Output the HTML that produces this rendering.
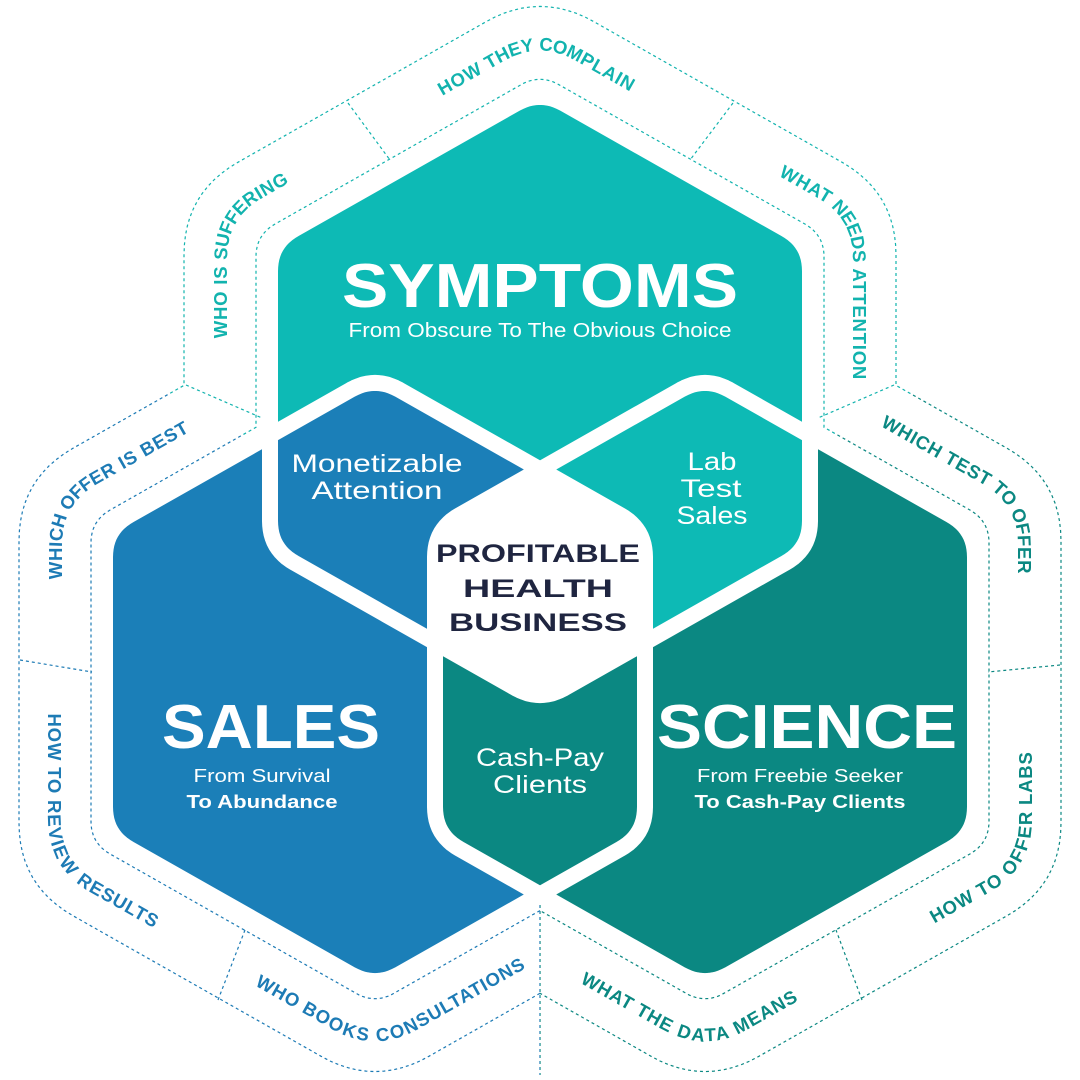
<!DOCTYPE html>
<html><head><meta charset="utf-8">
<style>
html,body{margin:0;padding:0;background:#fff;}
svg{display:block;}
text{font-family:"Liberation Sans",sans-serif;}
.lbl{font-weight:bold;font-size:18.5px;letter-spacing:0.8px;}
</style></head>
<body>
<svg id="s" width="1080" height="1080" viewBox="0 0 1080 1080" xmlns="http://www.w3.org/2000/svg">
<defs>
<clipPath id="cSales"><path id="pSalesC"/></clipPath>
<clipPath id="cSci"><path id="pSciC"/></clipPath>
<clipPath id="wTop"><polygon points="540,600 0,300 0,0 1080,0 1080,300"/></clipPath>
<clipPath id="wLeft"><polygon points="540,600 0,300 0,1080 540,1080"/></clipPath>
<clipPath id="wRight"><polygon points="540,600 1080,300 1080,1080 540,1080"/></clipPath>
<path id="midCW" fill="none"/>
<path id="midCCW" fill="none"/>
</defs>

<g id="rings"></g>

<path id="hSym" fill="#0dbab5"/>
<path id="hSales" fill="#1b7fb8"/>
<path id="hSci" fill="#0b8882"/>
<g clip-path="url(#cSci)"><path id="hSym2" fill="#0dbab5"/></g>
<g clip-path="url(#cSales)"><g clip-path="url(#cSci)"><path id="hSym3" fill="#ffffff"/></g></g>
<path id="oSym" fill="none" stroke="#fff" stroke-width="16" stroke-linejoin="round"/>
<path id="oSales" fill="none" stroke="#fff" stroke-width="16" stroke-linejoin="round"/>
<path id="oSci" fill="none" stroke="#fff" stroke-width="16" stroke-linejoin="round"/>

<g fill="#fff" text-anchor="middle">
<text x="540" y="307" font-size="62" font-weight="bold" textLength="396" lengthAdjust="spacingAndGlyphs">SYMPTOMS</text>
<text x="540" y="337" font-size="20" textLength="383" lengthAdjust="spacingAndGlyphs">From Obscure To The Obvious Choice</text>
<text x="271" y="748" font-size="62" font-weight="bold" textLength="218" lengthAdjust="spacingAndGlyphs">SALES</text>
<text x="262" y="782" font-size="18" textLength="137" lengthAdjust="spacingAndGlyphs">From Survival</text>
<text x="262" y="808" font-size="18" font-weight="bold" textLength="151" lengthAdjust="spacingAndGlyphs">To Abundance</text>
<text x="807" y="748" font-size="62" font-weight="bold" textLength="300" lengthAdjust="spacingAndGlyphs">SCIENCE</text>
<text x="800" y="782" font-size="18" textLength="206" lengthAdjust="spacingAndGlyphs">From Freebie Seeker</text>
<text x="800" y="808" font-size="18" font-weight="bold" textLength="211" lengthAdjust="spacingAndGlyphs">To Cash-Pay Clients</text>
<text x="377" y="472" font-size="25" textLength="171" lengthAdjust="spacingAndGlyphs">Monetizable</text>
<text x="377" y="499" font-size="25" textLength="131" lengthAdjust="spacingAndGlyphs">Attention</text>
<text x="712" y="470" font-size="25" textLength="49" lengthAdjust="spacingAndGlyphs">Lab</text>
<text x="711" y="497" font-size="25" textLength="61" lengthAdjust="spacingAndGlyphs">Test</text>
<text x="712" y="524" font-size="25" textLength="71" lengthAdjust="spacingAndGlyphs">Sales</text>
<text x="540" y="766" font-size="25" textLength="128" lengthAdjust="spacingAndGlyphs">Cash-Pay</text>
<text x="540" y="793" font-size="25" textLength="94" lengthAdjust="spacingAndGlyphs">Clients</text>
</g>
<g fill="#1f2540" text-anchor="middle" font-weight="bold" font-size="25">
<text x="538" y="562" textLength="204" lengthAdjust="spacingAndGlyphs">PROFITABLE</text>
<text x="538" y="597" textLength="150" lengthAdjust="spacingAndGlyphs">HEALTH</text>
<text x="538" y="631" textLength="178" lengthAdjust="spacingAndGlyphs">BUSINESS</text>
</g>

<g class="lbl" text-anchor="middle" dominant-baseline="central">
<text fill="#12b3ae"><textPath id="t1" href="#midCW">HOW THEY COMPLAIN</textPath></text>
<text fill="#12b3ae"><textPath id="t2" href="#midCW">WHAT NEEDS ATTENTION</textPath></text>
<text fill="#12b3ae"><textPath id="t3" href="#midCW">WHO IS SUFFERING</textPath></text>
<text fill="#1d7bb5"><textPath id="t4" href="#midCW">WHICH OFFER IS BEST</textPath></text>
<text fill="#0b8882"><textPath id="t5" href="#midCW">WHICH TEST TO OFFER</textPath></text>
<text fill="#0b8882"><textPath id="t6" href="#midCCW">HOW TO OFFER LABS</textPath></text>
<text fill="#0b8882"><textPath id="t7" href="#midCCW">WHAT THE DATA MEANS</textPath></text>
<text fill="#1d7bb5"><textPath id="t8" href="#midCCW">WHO BOOKS CONSULTATIONS</textPath></text>
<text fill="#1d7bb5"><textPath id="t9" href="#midCCW">HOW TO REVIEW RESULTS</textPath></text>
</g>
</svg>
<script>
(function(){
function hex(cx,cy,w,R){return [[cx,cy-R],[cx+w,cy-R/2],[cx+w,cy+R/2],[cx,cy+R],[cx-w,cy+R/2],[cx-w,cy-R/2]];}
function offsetPts(P,d,rc){
  var n=P.length,L=[],i;
  for(i=0;i<n;i++){var a=P[i],b=P[(i+1)%n],dx=b[0]-a[0],dy=b[1]-a[1],l=Math.hypot(dx,dy);
    var nx=dy/l,ny=-dx/l;L.push({px:a[0]+nx*d,py:a[1]+ny*d,dx:dx/l,dy:dy/l});}
  var out=[];
  for(i=0;i<n;i++){var p=L[(i-1+n)%n],c=L[i];
    var den=p.dx*c.dy-p.dy*c.dx;
    var t=((c.px-p.px)*c.dy-(c.py-p.py)*c.dx)/den;
    var V=[p.px+p.dx*t,p.py+p.dy*t];
    if(den>0&&rc>0){var A=[V[0]-p.dx*rc,V[1]-p.dy*rc],B=[V[0]+c.dx*rc,V[1]+c.dy*rc];
      for(var k=0;k<=12;k++){var u=k/12,a1=(1-u)*(1-u),b1=2*u*(1-u),c1=u*u;
        out.push([a1*A[0]+b1*V[0]+c1*B[0],a1*A[1]+b1*V[1]+c1*B[1]]);}
    } else out.push(V);
  }
  return out;
}
function ps(pts,close){return "M"+pts.map(function(p){return p[0].toFixed(1)+","+p[1].toFixed(1);}).join("L")+(close?"Z":"");}
function $(id){return document.getElementById(id);}
var sym=hex(540,396,270,306),sal=hex(375,682,270,306),sci=hex(705,682,270,306);
var dSym=ps(offsetPts(sym,0,28),1),dSal=ps(offsetPts(sal,0,28),1),dSci=ps(offsetPts(sci,0,28),1);
["hSym","hSym2","hSym3","oSym"].forEach(function(i){$(i).setAttribute("d",dSym);});
["hSales","oSales","pSalesC"].forEach(function(i){$(i).setAttribute("d",dSal);});
["hSci","oSci","pSciC"].forEach(function(i){$(i).setAttribute("d",dSci);});
var U=[[540,894.5],[375,988],[105,835],[105,529],[270,435.5],[270,243],[540,90],[810,243],[810,435.5],[975,529],[975,835],[705,988]];
var inner=ps(offsetPts(U,14,22),1),outer=ps(offsetPts(U,86,62),1);
var mid=offsetPts(U,50,45);
$("midCW").setAttribute("d",ps(mid.concat([mid[0]]),0));
var rev=mid.slice().reverse();
$("midCCW").setAttribute("d",ps([mid[0]].concat(rev),0));
var divs=[[348,103,390,160],[733,103,690,160],[186,385,262,418],[894,385,818,418],[20,660,92,672],[1060,665,988,672],[218,1000,245,930],[540,905,540,1075],[862,1000,836,930]];
var NS="http://www.w3.org/2000/svg",rg=$("rings");
[["wTop","#12b3ae"],["wLeft","#1d7bb5"],["wRight","#0b8882"]].forEach(function(w){
  var g=document.createElementNS(NS,"g");g.setAttribute("clip-path","url(#"+w[0]+")");
  g.setAttribute("fill","none");g.setAttribute("stroke",w[1]);g.setAttribute("stroke-width","1.2");g.setAttribute("stroke-dasharray","3 3");
  [inner,outer].forEach(function(d){var p=document.createElementNS(NS,"path");p.setAttribute("d",d);g.appendChild(p);});
  divs.forEach(function(v){var l=document.createElementNS(NS,"line");l.setAttribute("x1",v[0]);l.setAttribute("y1",v[1]);l.setAttribute("x2",v[2]);l.setAttribute("y2",v[3]);g.appendChild(l);});
  rg.appendChild(g);
});
function place(tid,pathId,x,y){
  var p=$(pathId),T=p.getTotalLength(),best=0,bd=1e9;
  for(var s=0;s<T;s+=2){var q=p.getPointAtLength(s),dd=(q.x-x)*(q.x-x)+(q.y-y)*(q.y-y);if(dd<bd){bd=dd;best=s;}}
  $(tid).setAttribute("startOffset",best.toFixed(1));
}
place("t1","midCW",538,66);
place("t2","midCW",828,258);
place("t3","midCW",262,250);
place("t4","midCW",112,515);
place("t5","midCW",962,512);
place("t6","midCCW",975,835);
place("t7","midCCW",695,1003);
place("t8","midCCW",385,1003);
place("t9","midCCW",100,830);
})();
</script>
</body></html>
